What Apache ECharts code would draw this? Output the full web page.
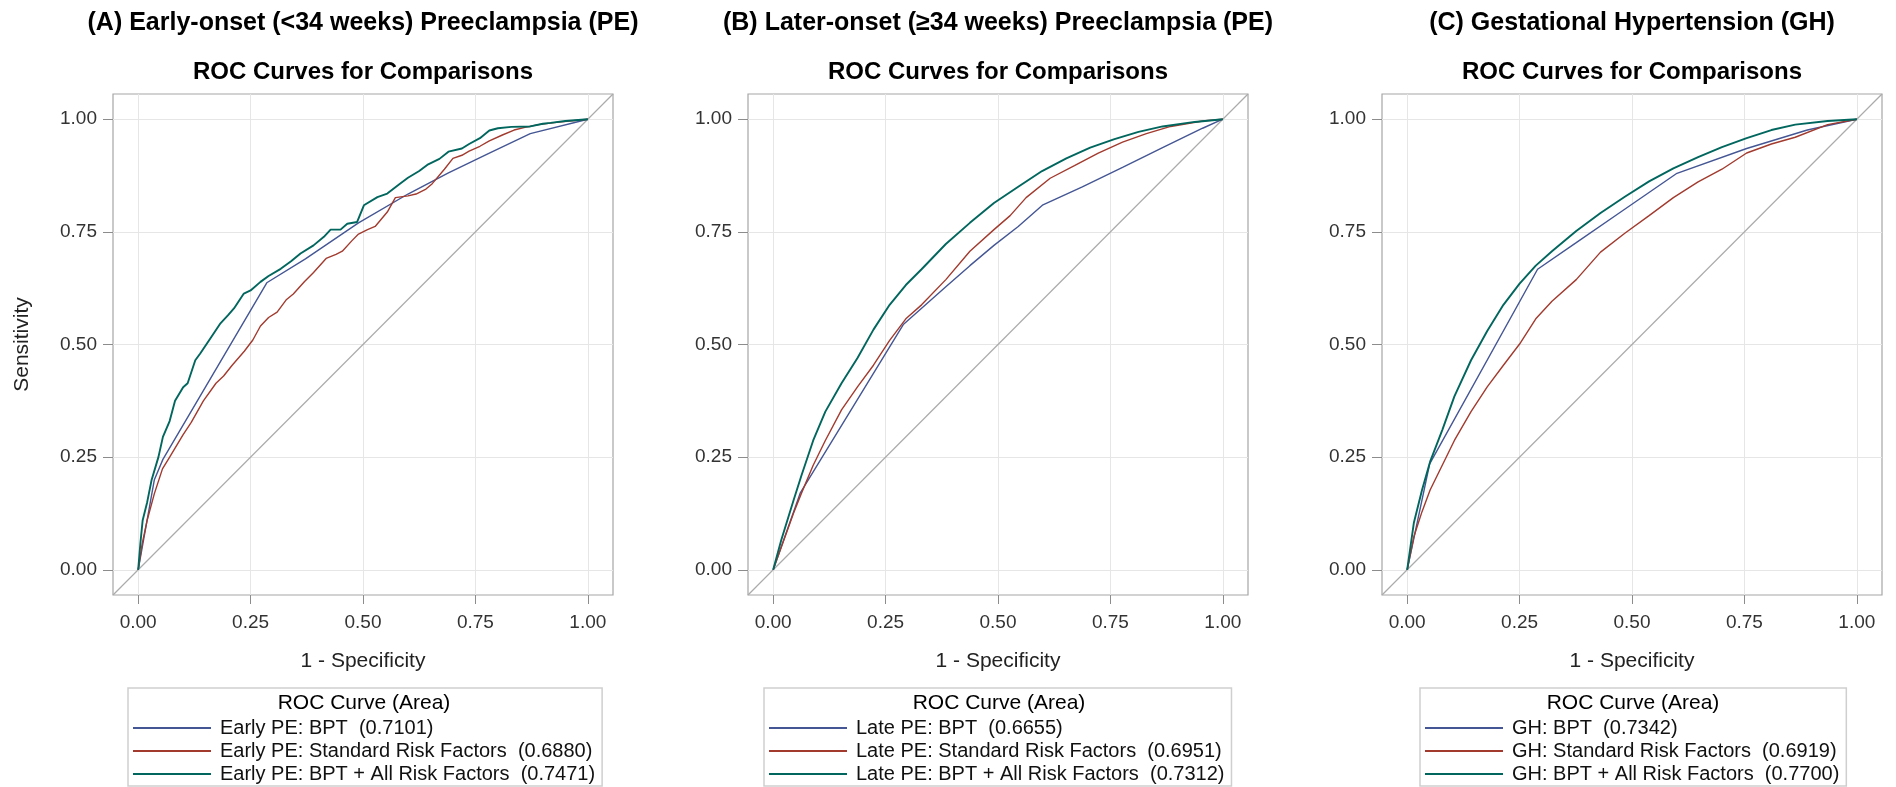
<!DOCTYPE html>
<html>
<head>
<meta charset="utf-8">
<title>ROC Curves for Comparisons</title>
<script src="https://cdn.jsdelivr.net/npm/echarts@6/dist/echarts.min.js"></script>
<style>
  html, body { margin: 0; padding: 0; background: #fff; }
  #rocCharts { width: 1896px; height: 787px; }
</style>
</head>
<body>
<div id="rocCharts"></div>
<script>
var panelTitles = [
  "(A) Early-onset (<34 weeks) Preeclampsia (PE)",
  "(B) Later-onset (\u226534 weeks) Preeclampsia (PE)",
  "(C) Gestational Hypertension (GH)"
];
var subTitle = "ROC Curves for Comparisons";
var tickValues = [0, 0.25, 0.5, 0.75, 1];

var seriesNames = [
  ["Early PE: BPT", "Early PE: Standard Risk Factors", "Early PE: BPT + All Risk Factors"],
  ["Late PE: BPT", "Late PE: Standard Risk Factors", "Late PE: BPT + All Risk Factors"],
  ["GH: BPT", "GH: Standard Risk Factors", "GH: BPT + All Risk Factors"]
];
var aucValues = [
  ["0.7101", "0.6880", "0.7471"],
  ["0.6655", "0.6951", "0.7312"],
  ["0.7342", "0.6919", "0.7700"]
];

// [1 - specificity, sensitivity]
var earlyBpt = [[0,0],[0.036,0.2],[0.055,0.245],[0.286,0.637],[0.372,0.69],[0.49,0.77],[0.6,0.834],
  [0.69,0.881],[0.781,0.925],[0.872,0.968],[1,1]];
var earlyStd = [[0,0],[0.009,0.058],[0.02,0.11],[0.036,0.169],[0.054,0.224],[0.07,0.25],[0.082,0.27],
  [0.1,0.3],[0.118,0.327],[0.145,0.375],[0.173,0.414],[0.19,0.43],[0.209,0.454],[0.236,0.485],
  [0.255,0.51],[0.272,0.541],[0.29,0.56],[0.309,0.572],[0.33,0.6],[0.345,0.612],[0.37,0.64],
  [0.39,0.66],[0.418,0.691],[0.44,0.7],[0.454,0.707],[0.475,0.73],[0.49,0.745],[0.51,0.755],
  [0.527,0.762],[0.554,0.794],[0.572,0.826],[0.6,0.83],[0.618,0.834],[0.64,0.845],[0.654,0.857],
  [0.681,0.889],[0.7,0.913],[0.72,0.92],[0.736,0.929],[0.76,0.94],[0.781,0.952],[0.81,0.965],
  [0.836,0.976],[0.86,0.982],[0.89,0.988],[0.93,0.993],[1,1]];
var earlyAll = [[0,0],[0.005,0.06],[0.01,0.11],[0.02,0.15],[0.03,0.2],[0.045,0.25],[0.055,0.295],
  [0.07,0.33],[0.082,0.375],[0.1,0.405],[0.11,0.414],[0.127,0.465],[0.138,0.48],[0.163,0.517],
  [0.183,0.547],[0.2,0.565],[0.213,0.58],[0.235,0.613],[0.25,0.62],[0.272,0.639],[0.29,0.652],
  [0.317,0.668],[0.34,0.685],[0.361,0.702],[0.39,0.72],[0.413,0.739],[0.428,0.755],[0.45,0.755],
  [0.465,0.768],[0.487,0.772],[0.502,0.809],[0.532,0.827],[0.554,0.835],[0.58,0.855],[0.6,0.87],
  [0.625,0.885],[0.645,0.9],[0.67,0.912],[0.69,0.928],[0.72,0.935],[0.736,0.945],[0.76,0.958],
  [0.781,0.975],[0.8,0.98],[0.83,0.983],[0.872,0.984],[0.9,0.99],[0.917,0.992],[0.95,0.996],[1,1]];

var lateBpt = [[0,0],[0.06,0.17],[0.29,0.545],[0.384,0.628],[0.4375,0.675],[0.491,0.72],[0.545,0.762],
  [0.6,0.81],[0.6875,0.85],[0.777,0.893],[0.866,0.937],[0.955,0.98],[1,1]];
var lateStd = [[0,0],[0.018,0.05],[0.045,0.125],[0.0625,0.169],[0.089,0.232],[0.116,0.287],[0.152,0.355],
  [0.1875,0.406],[0.223,0.454],[0.259,0.509],[0.295,0.557],[0.33,0.588],[0.384,0.644],[0.4375,0.707],
  [0.491,0.755],[0.527,0.786],[0.5625,0.826],[0.616,0.869],[0.67,0.897],[0.723,0.925],[0.777,0.949],
  [0.83,0.968],[0.884,0.984],[0.955,0.996],[1,1]];
var lateAll = [[0,0],[0.018,0.066],[0.045,0.153],[0.0625,0.208],[0.089,0.287],[0.116,0.351],[0.152,0.414],
  [0.1875,0.47],[0.223,0.533],[0.259,0.588],[0.295,0.632],[0.33,0.667],[0.384,0.723],[0.4375,0.77],
  [0.491,0.814],[0.545,0.85],[0.598,0.885],[0.652,0.913],[0.705,0.937],[0.759,0.956],[0.8125,0.972],
  [0.866,0.984],[0.9375,0.994],[1,1]];

var ghBpt = [[0,0],[0.05,0.235],[0.29,0.667],[0.376,0.726],[0.466,0.788],[0.6,0.88],[0.755,0.935],
  [0.89,0.976],[1,1]];
var ghStd = [[0,0],[0.015,0.074],[0.033,0.129],[0.051,0.177],[0.078,0.232],[0.105,0.287],[0.142,0.351],
  [0.178,0.406],[0.214,0.454],[0.25,0.501],[0.286,0.557],[0.322,0.596],[0.376,0.644],[0.43,0.705],
  [0.484,0.747],[0.538,0.786],[0.592,0.826],[0.647,0.861],[0.7,0.889],[0.755,0.925],[0.81,0.945],
  [0.863,0.96],[0.935,0.988],[1,1]];
var ghAll = [[0,0],[0.015,0.105],[0.033,0.177],[0.051,0.24],[0.078,0.31],[0.105,0.385],[0.142,0.465],
  [0.178,0.53],[0.214,0.588],[0.25,0.635],[0.286,0.675],[0.322,0.707],[0.376,0.752],[0.43,0.792],
  [0.484,0.828],[0.538,0.862],[0.592,0.891],[0.647,0.916],[0.7,0.938],[0.755,0.958],[0.81,0.976],
  [0.863,0.988],[0.935,0.996],[1,1]];

var panelData = [
  [earlyBpt, earlyStd, earlyAll],
  [lateBpt, lateStd, lateAll],
  [ghBpt, ghStd, ghAll]
];

var lineColors = ["#445694", "#A23A2E", "#01665E"];
var lineWidths = [1.4, 1.4, 1.9];
var fontName = "'Liberation Sans', Arial, sans-serif";
var axisMin = -0.056, axisMax = 1.056;

var gridLefts = [113, 748, 1382];
var gridTop = 94, gridW = 500, gridH = 501;
var legendLefts = [128, 764, 1420];

var chart = echarts.init(document.getElementById("rocCharts"));

var option = {
  backgroundColor: "#fff",
  animation: false,
  title: [],
  legend: [],
  grid: [],
  xAxis: [],
  yAxis: [],
  series: []
};

function fmt(v) { return v.toFixed(2); }

for (var p = 0; p < 3; p++) {
  var cx = gridLefts[p] + gridW / 2;
  option.title.push({
    text: panelTitles[p], left: cx, top: 23, padding: 0,
    textAlign: "center", textVerticalAlign: "middle",
    textStyle: { fontFamily: fontName, fontSize: 25, fontWeight: "bold", color: "#000" }
  });
  option.title.push({
    text: subTitle, left: cx, top: 72, padding: 0,
    textAlign: "center", textVerticalAlign: "middle",
    textStyle: { fontFamily: fontName, fontSize: 24, fontWeight: "bold", color: "#000" }
  });
  option.title.push({
    text: "ROC Curve (Area)", left: cx + 1, top: 703, padding: 0,
    textAlign: "center", textVerticalAlign: "middle",
    textStyle: { fontFamily: fontName, fontSize: 21, fontWeight: "normal", color: "#000" }
  });

  option.grid.push({
    left: gridLefts[p], top: gridTop, width: gridW, height: gridH,
    show: true, borderColor: "#A6A6A6", borderWidth: 1.2, backgroundColor: "#fff"
  });

  option.xAxis.push({
    type: "value", gridIndex: p, min: axisMin, max: axisMax,
    name: "1 - Specificity", nameLocation: "middle", nameGap: 56,
    nameTextStyle: { fontFamily: fontName, fontSize: 21, color: "#222" },
    axisLine: { show: false, onZero: false },
    axisTick: { show: true, length: 9, customValues: tickValues, lineStyle: { color: "#8C8C8C" } },
    axisLabel: { customValues: tickValues, formatter: fmt, margin: 18,
      fontFamily: fontName, fontSize: 19, color: "#333" },
    splitLine: { show: true, lineStyle: { color: "#E6E6E6", width: 1 } }
  });
  option.yAxis.push({
    type: "value", gridIndex: p, min: axisMin, max: axisMax,
    name: p === 0 ? "Sensitivity" : "", nameLocation: "middle", nameGap: 80,
    nameTextStyle: { fontFamily: fontName, fontSize: 21, color: "#222" },
    axisLine: { show: false, onZero: false },
    axisTick: { show: true, length: 10, customValues: tickValues, lineStyle: { color: "#8C8C8C" } },
    axisLabel: { customValues: tickValues, formatter: fmt, margin: 16,
      fontFamily: fontName, fontSize: 19, color: "#333" },
    splitLine: { show: true, lineStyle: { color: "#E6E6E6", width: 1 } }
  });

  // chance diagonal, corner to corner of the frame
  option.series.push({
    name: "ref" + p, type: "line", xAxisIndex: p, yAxisIndex: p,
    data: [[axisMin, axisMin], [axisMax, axisMax]],
    showSymbol: false, silent: true, z: 1,
    lineStyle: { color: "#ABABAB", width: 1.2 }
  });
  for (var s = 0; s < 3; s++) {
    option.series.push({
      name: seriesNames[p][s], type: "line", xAxisIndex: p, yAxisIndex: p,
      data: panelData[p][s], showSymbol: false, z: 2 + s,
      color: lineColors[s],
      lineStyle: { color: lineColors[s], width: lineWidths[s] }
    });
  }

  (function (names, aucs) {
    option.legend.push({
      data: names, orient: "vertical", left: legendLefts[p], top: 688, height: 160,
      padding: [30, 7, 2, 5], itemGap: 3, itemWidth: 78, itemHeight: 2,
      icon: "rect", borderColor: "#CFCFCF", borderWidth: 1.5,
      selectedMode: false,
      textStyle: { fontFamily: fontName, fontSize: 20, lineHeight: 20, color: "#111", padding: [0, 0, 0, 4] },
      formatter: function (name) {
        return name + "  (" + aucs[names.indexOf(name)] + ")";
      }
    });
  })(seriesNames[p], aucValues[p]);
}

chart.setOption(option);
</script>
</body>
</html>
